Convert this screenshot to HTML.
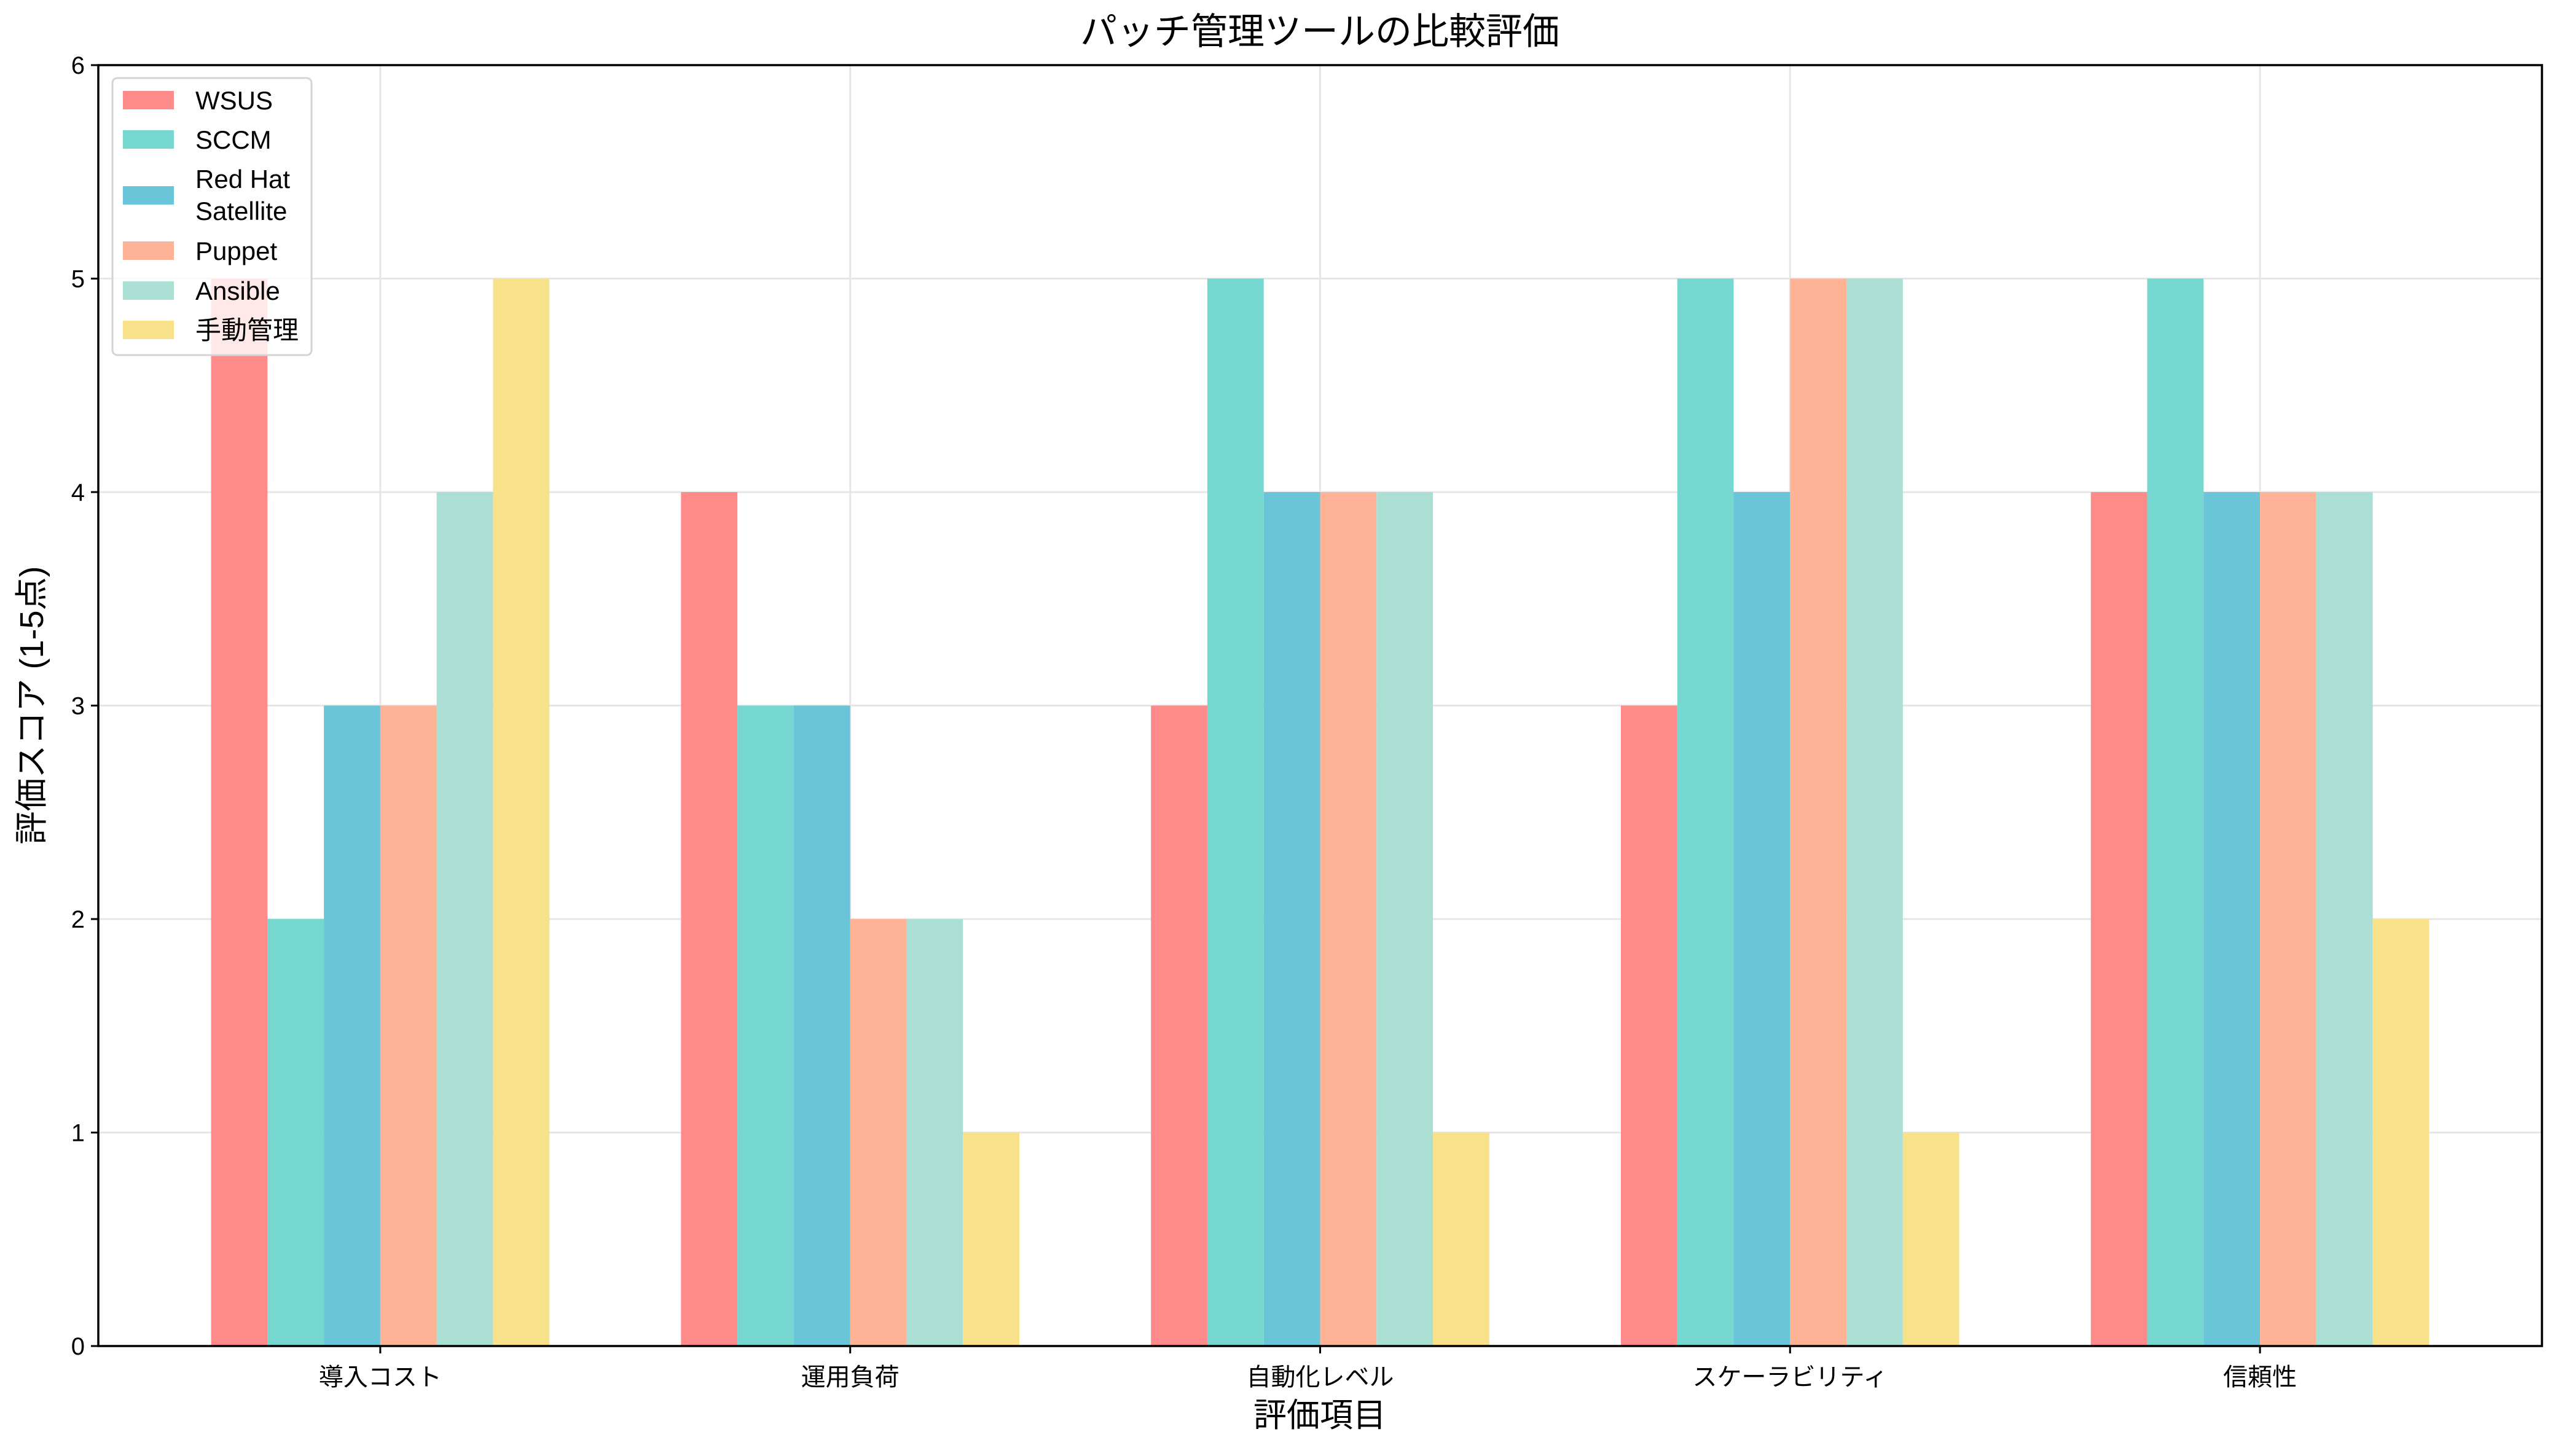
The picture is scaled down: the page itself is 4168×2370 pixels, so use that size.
<!DOCTYPE html>
<html><head><meta charset="utf-8">
<style>
html,body{margin:0;padding:0;background:#fff;}
svg{display:block;font-family:"Liberation Sans","Noto Sans CJK JP",sans-serif;}
</style></head>
<body>
<svg id="chart" width="4168" height="2370" viewBox="0 0 4168 2370" xmlns="http://www.w3.org/2000/svg">
<rect width="4168" height="2370" fill="#fff"/>
<g id="grid"></g>
<g id="bars"></g>
<g id="axes"></g>
<g id="legend"></g>
<text x="2148" y="72" font-size="60" text-anchor="middle">パッチ管理ツールの比較評価</text>
<text x="2148" y="2322" font-size="54" text-anchor="middle">評価項目</text>
<text transform="translate(70,1148) rotate(-90)" font-size="54" text-anchor="middle">評価スコア (1-5点)</text>
</svg>
<script>
const categories = ["導入コスト","運用負荷","自動化レベル","スケーラビリティ","信頼性"];
const seriesNames = ["WSUS","SCCM","Red Hat Satellite","Puppet","Ansible","手動管理"];
const wsus = [5,4,3,3,4];
const sccm = [2,3,5,5,5];
const satellite = [3,3,4,4,4];
const puppet = [3,2,4,5,4];
const ansible = [4,2,4,5,4];
const manual = [5,1,1,1,2];
const yTicks = [0,1,2,3,4,5,6];
const seriesValues = [wsus,sccm,satellite,puppet,ansible,manual];
const colors = ["#ff8a8a","#76d7d0","#6bc5d9","#ffb396","#acdfd3","#f7e18b"];

const NS="http://www.w3.org/2000/svg";
const L=160,R=4137,T=106,B=2191;
const xMin=-0.6,xMax=4.6,yMin=0,yMax=6;
const xs=v=>L+(v-xMin)/(xMax-xMin)*(R-L);
const ys=v=>B-(v-yMin)/(yMax-yMin)*(B-T);
const barW=0.12;
function mk(tag,attrs,parent){const e=document.createElementNS(NS,tag);for(const k in attrs)e.setAttribute(k,attrs[k]);parent.appendChild(e);return e;}
const grid=document.getElementById('grid'),bars=document.getElementById('bars'),axes=document.getElementById('axes'),legend=document.getElementById('legend');

yTicks.forEach(t=>{
  const l=mk('line',{x1:L,x2:R,y1:ys(t),y2:ys(t),stroke:'#e6e6e6','stroke-width':3},grid);
  
  
  const tk=mk('line',{x1:L-12,x2:L,y1:ys(t),y2:ys(t),stroke:'#000','stroke-width':3},axes);
  
  
  const tx=mk('text',{x:L-22,y:ys(t)+14,'font-size':40,'text-anchor':'end'},axes);
  tx.textContent=t;
  
  
});
categories.forEach((c,i)=>{
  const l=mk('line',{x1:xs(i),x2:xs(i),y1:T,y2:B,stroke:'#e6e6e6','stroke-width':3},grid);
  
  
  const tk=mk('line',{x1:xs(i),x2:xs(i),y1:B,y2:B+12,stroke:'#000','stroke-width':3},axes);
  
  
  const tx=mk('text',{x:xs(i),y:B+64,'font-size':40,'text-anchor':'middle'},axes);
  tx.textContent=c;
  
  
});
seriesValues.forEach((vals,s)=>{
  vals.forEach((v,i)=>{
    const x0=xs(i+(s-3)*barW), x1=xs(i+(s-2)*barW);
    const r=mk('rect',{x:x0,y:ys(v),width:x1-x0,height:ys(0)-ys(v),fill:colors[s]},bars);
    
    
  });
});
const frame=mk('rect',{x:L,y:T,width:R-L,height:B-T,fill:'none',stroke:'#000','stroke-width':3.5},axes);



const box=mk('rect',{x:183,y:127,width:324,height:451,rx:8,fill:'#fff','fill-opacity':0.8,stroke:'#d4d4d4','stroke-width':3},legend);


const rowY=[163,227,318,408,473,537];
seriesNames.forEach((n,s)=>{
  const g=mk('g',{},legend);
  
  
  mk('rect',{x:200,y:rowY[s]-15,width:83,height:30,fill:colors[s]},g);
  if(n==="Red Hat Satellite"){
    const t1=mk('text',{x:318,y:rowY[s]-12,'font-size':42},g);t1.textContent="Red Hat";
    const t2=mk('text',{x:318,y:rowY[s]+40,'font-size':42},g);t2.textContent="Satellite";
  } else {
    const t=mk('text',{x:318,y:rowY[s]+15,'font-size':42},g);t.textContent=n;
  }
});
</script>
</body></html>
